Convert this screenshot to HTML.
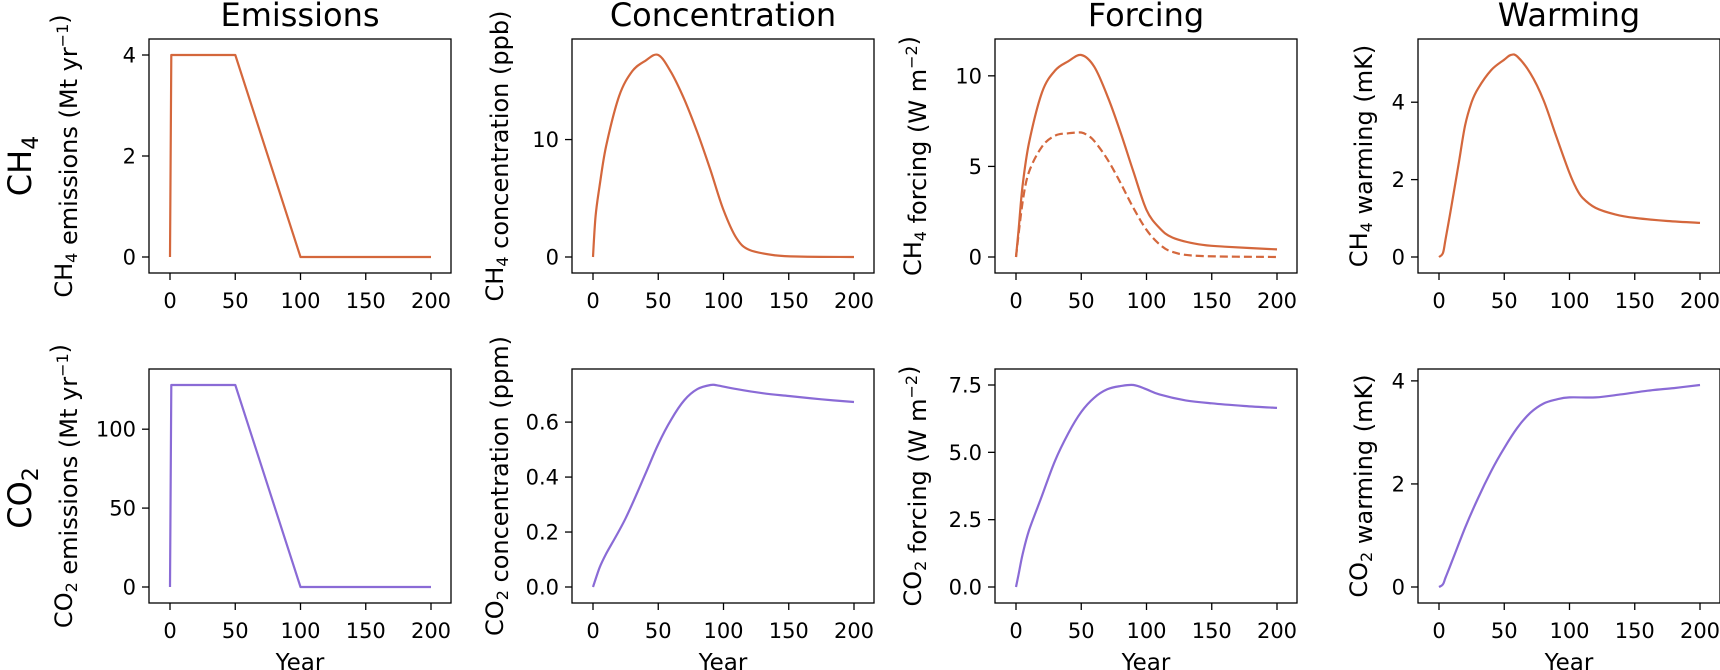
<!DOCTYPE html>
<html><head><meta charset="utf-8"><style>
html,body{margin:0;padding:0;background:#fff;}
svg{display:block;font-family:"DejaVu Sans","Liberation Sans",sans-serif;}
</style></head><body>
<svg id="fig" width="1720" height="670" viewBox="0 0 1720 670" xmlns="http://www.w3.org/2000/svg"></svg>
<script>
const emisYears = [0,1,50,100,200];
const ch4Emis = [0,4,4,0,0];
const co2Emis = [0,128,128,0,0];
const ch4ConcYears = [0,2,5,10,20,30,40,50,60,70,80,90,100,110,120,140,160,200];
const ch4Conc = [0,3.5,6.0,9.4,13.7,15.8,16.7,17.2,15.7,13.4,10.6,7.4,4.0,1.6,0.6,0.14,0.03,0];
const ch4ForcYears = [0,2,5,10,20,30,40,50,60,70,80,90,100,110,120,140,160,200];
const ch4Forc = [0,1.5,3.9,6.3,9.1,10.3,10.8,11.15,10.5,8.9,6.9,4.7,2.6,1.6,1.07,0.7,0.57,0.42];
const ch4ForcDashYears = [0,5,10,20,30,40,50,55,60,70,80,90,100,110,120,140,200];
const ch4ForcDash = [0,3.0,4.7,6.1,6.7,6.83,6.87,6.7,6.4,5.4,4.1,2.7,1.5,0.7,0.28,0.06,0];
const ch4WarmYears = [0,3,5,10,15,20,25,30,40,50,55,60,70,80,90,100,105,110,120,135,150,175,200];
const ch4Warm = [0,0.1,0.45,1.4,2.4,3.4,4.0,4.36,4.83,5.1,5.22,5.18,4.75,4.06,3.1,2.17,1.79,1.53,1.27,1.1,1.01,0.93,0.88];
const co2ConcYears = [0,5,10,25,40,50,60,70,80,90,95,110,130,150,175,200];
const co2Conc = [0,0.07,0.12,0.25,0.41,0.52,0.61,0.68,0.72,0.735,0.734,0.72,0.705,0.695,0.683,0.673];
const co2ForcYears = [0,2,5,10,20,30,40,50,60,70,80,90,100,110,130,150,175,200];
const co2Forc = [0,0.47,1.2,2.1,3.4,4.7,5.7,6.5,7.03,7.34,7.46,7.5,7.34,7.15,6.93,6.82,6.72,6.65];
const co2WarmYears = [0,3,5,10,20,30,40,50,60,70,80,90,100,120,140,160,180,200];
const co2Warm = [0,0.05,0.18,0.5,1.15,1.73,2.25,2.7,3.09,3.38,3.56,3.64,3.68,3.68,3.74,3.81,3.86,3.92];
const xTicks = [0,50,100,150,200];
const ticks1 = [0,2,4], ticks2=[0,10], ticks3=[0,5,10], ticks4=[0,2,4];
const ticks5 = [0,50,100], ticks6=[0,0.2,0.4,0.6], ticks7=[0,2.5,5,7.5], ticks8=[0,2,4];
const titles = ["Emissions","Concentration","Forcing","Warming"];

const NS="http://www.w3.org/2000/svg";
const svg=document.getElementById('fig');
const ORANGE="#d4673c", PURPLE="#8a6bd6";
function el(tag,attrs,parent){const e=document.createElementNS(NS,tag);for(const k in attrs)e.setAttribute(k,attrs[k]);(parent||svg).appendChild(e);return e;}

const colLeft=[149,572,995,1418], rowTop=[39,369], W=302, H=234;
const ylabBase=[77,69,74,51];

function smoothPath(P){
  let d='M'+P[0][0].toFixed(1)+','+P[0][1].toFixed(1);
  for(let i=0;i<P.length-1;i++){
    const p0=P[Math.max(i-1,0)],p1=P[i],p2=P[i+1],p3=P[Math.min(i+2,P.length-1)];
    const c1=[p1[0]+(p2[0]-p0[0])/6,p1[1]+(p2[1]-p0[1])/6];
    const c2=[p2[0]-(p3[0]-p1[0])/6,p2[1]-(p3[1]-p1[1])/6];
    d+=` C${c1[0].toFixed(1)},${c1[1].toFixed(1)} ${c2[0].toFixed(1)},${c2[1].toFixed(1)} ${p2[0].toFixed(1)},${p2[1].toFixed(1)}`;
  }
  return d;
}

function panel(c,r,name,yticks,fmt,ylabelHTML,series,showYear){
  const L=colLeft[c], T=rowTop[r], B=T+H, R=L+W;
  let ymax=0; series.forEach(s=>s.v.forEach(v=>{if(v>ymax)ymax=v;}));
  const X=t=>L+21+t*261/200;
  const Y=v=>(B-16)-v/ymax*(H-32);
  const g=el('g',{});
  
  
  series.forEach(s=>{
    const P=s.t.map((t,k)=>[X(t),Y(s.v[k])]);
    const d=s.linear?P.map((p,k)=>(k?'L':'M')+p[0].toFixed(1)+','+p[1].toFixed(1)).join(' '):smoothPath(P);
    const p=el('path',{d:d,fill:'none',stroke:s.color,'stroke-width':2.2,'stroke-linejoin':'round'},g);
    if(s.dash)p.setAttribute('stroke-dasharray','8,4');
    
    
  });
  const fr=el('rect',{x:L,y:T,width:W,height:H,fill:'none',stroke:'#000','stroke-width':1.3},g);
  
  
  xTicks.forEach(t=>{
    el('line',{x1:X(t),x2:X(t),y1:B,y2:B+7,stroke:'#000','stroke-width':1.3},g);
    const tx=el('text',{x:X(t),y:B+35,'font-size':21,'text-anchor':'middle'},g);
    tx.textContent=t;
    
    
  });
  yticks.forEach(v=>{
    el('line',{x1:L-7,x2:L,y1:Y(v),y2:Y(v),stroke:'#000','stroke-width':1.3},g);
    const tx=el('text',{x:L-13,y:Y(v)+7.5,'font-size':21,'text-anchor':'end'},g);
    tx.textContent=fmt(v);
    
    
  });
  const bx=L-ylabBase[c], cy=(T+B)/2;
  const yl=el('text',{x:0,y:0,'font-size':24,'text-anchor':'middle',transform:`translate(${bx},${cy}) rotate(-90)`},g);
  yl.innerHTML=ylabelHTML;
  
  
  if(showYear){
    const yr=el('text',{x:(L+R)/2,y:B+67,'font-size':23,'text-anchor':'middle'},g);
    yr.textContent='Year';
    
    
  }
}
const i0=v=>String(v), f1=v=>v.toFixed(1);
const sub=s=>`<tspan dy="5" font-size="16">${s}</tspan><tspan dy="-5"></tspan>`;
const sup=s=>`<tspan dy="-9" font-size="16">${s}</tspan><tspan dy="9"></tspan>`;

panel(0,0,'ch4-emissions',ticks1,i0,`CH${sub('4')} emissions (Mt yr${sup('−1')})`,[{t:emisYears,v:ch4Emis,color:ORANGE,linear:true}],false);
panel(1,0,'ch4-concentration',ticks2,i0,`CH${sub('4')} concentration (ppb)`,[{t:ch4ConcYears,v:ch4Conc,color:ORANGE}],false);
panel(2,0,'ch4-forcing',ticks3,i0,`CH${sub('4')} forcing (W m${sup('−2')})`,[{t:ch4ForcYears,v:ch4Forc,color:ORANGE},{t:ch4ForcDashYears,v:ch4ForcDash,color:ORANGE,dash:true}],false);
panel(3,0,'ch4-warming',ticks4,i0,`CH${sub('4')} warming (mK)`,[{t:ch4WarmYears,v:ch4Warm,color:ORANGE}],false);
panel(0,1,'co2-emissions',ticks5,i0,`CO${sub('2')} emissions (Mt yr${sup('−1')})`,[{t:emisYears,v:co2Emis,color:PURPLE,linear:true}],true);
panel(1,1,'co2-concentration',ticks6,f1,`CO${sub('2')} concentration (ppm)`,[{t:co2ConcYears,v:co2Conc,color:PURPLE}],true);
panel(2,1,'co2-forcing',ticks7,f1,`CO${sub('2')} forcing (W m${sup('−2')})`,[{t:co2ForcYears,v:co2Forc,color:PURPLE}],true);
panel(3,1,'co2-warming',ticks8,i0,`CO${sub('2')} warming (mK)`,[{t:co2WarmYears,v:co2Warm,color:PURPLE}],true);

titles.forEach((t,c)=>{
  const tx=el('text',{x:colLeft[c]+W/2,y:26,'font-size':32,'text-anchor':'middle'});
  tx.textContent=t;
  
  
});
[['CH',"4",166],['CO',"2",498]].forEach(([a,b,cy])=>{
  const tx=el('text',{x:0,y:0,'font-size':32,'text-anchor':'middle',transform:`translate(31,${cy}) rotate(-90)`});
  tx.innerHTML=a+`<tspan dy="7" font-size="22">${b}</tspan>`;
  
  
});
</script>
</body></html>
